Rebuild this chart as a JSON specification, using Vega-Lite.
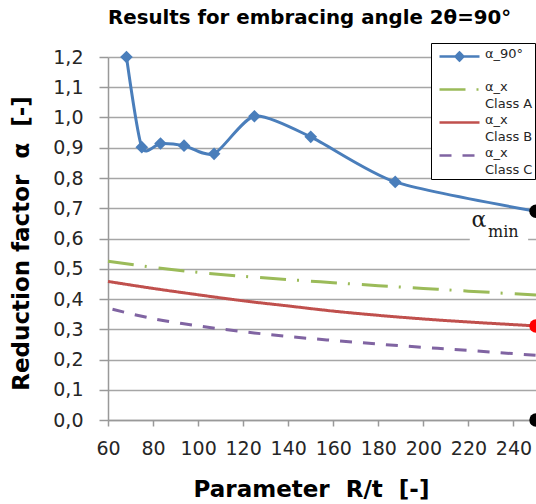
{
  "$schema": "https://vega.github.io/schema/vega-lite/v6.json",
  "autosize": "none",
  "width": 428,
  "height": 363,
  "padding": {"left": 108, "top": 57, "right": 0, "bottom": 84},
  "background": "white",
  "title": {
    "text": "Results for embracing angle 2θ=90°",
    "anchor": "start",
    "frame": "group",
    "font": "DejaVu Sans",
    "fontSize": 19.8,
    "fontWeight": "bold",
    "color": "#000000",
    "baseline": "alphabetic",
    "offset": -1
  },
  "config": {
    "view": {"stroke": null},
    "axis": {
      "labelFont": "DejaVu Sans",
      "labelFontSize": 19,
      "labelColor": "#262626",
      "titleFont": "DejaVu Sans",
      "titleFontSize": 23,
      "titleFontWeight": "bold",
      "titleColor": "#000000",
      "domainColor": "#999999",
      "domainWidth": 1.5,
      "tickColor": "#999999",
      "tickWidth": 1.5,
      "labelOverlap": false,
      "labelFlush": false
    }
  },
  "datasets": {
    "curves": [
      {"series": "α_90°", "rt": 68.2, "alpha": 1.2},
      {"series": "α_90°", "rt": 75, "alpha": 0.902},
      {"series": "α_90°", "rt": 83.3, "alpha": 0.914},
      {"series": "α_90°", "rt": 93.75, "alpha": 0.907},
      {"series": "α_90°", "rt": 107.1, "alpha": 0.88},
      {"series": "α_90°", "rt": 125, "alpha": 1.004},
      {"series": "α_90°", "rt": 150, "alpha": 0.936},
      {"series": "α_90°", "rt": 187.5, "alpha": 0.787},
      {"series": "α_90°", "rt": 250, "alpha": 0.69},
      {"series": "α_x Class A", "rt": 60, "alpha": 0.525},
      {"series": "α_x Class A", "rt": 80, "alpha": 0.505},
      {"series": "α_x Class A", "rt": 100, "alpha": 0.488},
      {"series": "α_x Class A", "rt": 120, "alpha": 0.475},
      {"series": "α_x Class A", "rt": 140, "alpha": 0.464},
      {"series": "α_x Class A", "rt": 160, "alpha": 0.454},
      {"series": "α_x Class A", "rt": 180, "alpha": 0.444},
      {"series": "α_x Class A", "rt": 200, "alpha": 0.435},
      {"series": "α_x Class A", "rt": 220, "alpha": 0.426},
      {"series": "α_x Class A", "rt": 250, "alpha": 0.413},
      {"series": "α_x Class B", "rt": 60, "alpha": 0.458},
      {"series": "α_x Class B", "rt": 80, "alpha": 0.435},
      {"series": "α_x Class B", "rt": 100, "alpha": 0.414},
      {"series": "α_x Class B", "rt": 120, "alpha": 0.394},
      {"series": "α_x Class B", "rt": 140, "alpha": 0.377},
      {"series": "α_x Class B", "rt": 160, "alpha": 0.36},
      {"series": "α_x Class B", "rt": 180, "alpha": 0.346},
      {"series": "α_x Class B", "rt": 200, "alpha": 0.334},
      {"series": "α_x Class B", "rt": 220, "alpha": 0.324},
      {"series": "α_x Class B", "rt": 250, "alpha": 0.311},
      {"series": "α_x Class C", "rt": 62, "alpha": 0.366},
      {"series": "α_x Class C", "rt": 80, "alpha": 0.335},
      {"series": "α_x Class C", "rt": 100, "alpha": 0.311},
      {"series": "α_x Class C", "rt": 120, "alpha": 0.292},
      {"series": "α_x Class C", "rt": 140, "alpha": 0.276},
      {"series": "α_x Class C", "rt": 160, "alpha": 0.263},
      {"series": "α_x Class C", "rt": 180, "alpha": 0.251},
      {"series": "α_x Class C", "rt": 200, "alpha": 0.24},
      {"series": "α_x Class C", "rt": 220, "alpha": 0.23},
      {"series": "α_x Class C", "rt": 250, "alpha": 0.214}
    ],
    "blackDots": [
      {"rt": 250, "alpha": 0.69},
      {"rt": 250, "alpha": 0.0}
    ],
    "redDots": [
      {"rt": 250, "alpha": 0.311}
    ],
    "labelBox": [
      {"rt": 220.6, "rt2": 246.5, "alpha": 0.588, "alpha2": 0.66}
    ],
    "alphaLabel": [
      {"rt": 221.4, "alpha": 0.638, "txt": "α"}
    ],
    "minLabel": [
      {"rt": 228.7, "alpha": 0.605, "txt": "min"}
    ]
  },
  "encoding": {
    "x": {
      "field": "rt", "type": "quantitative",
      "scale": {"domain": [60, 250], "nice": false, "zero": false},
      "axis": {
        "title": "Parameter\u00a0\u00a0R/t\u00a0\u00a0[-]",
        "titleX": 203,
        "values": [60, 80, 100, 120, 140, 160, 180, 200, 220, 240],
        "grid": false,
        "tickSize": 6,
        "labelPadding": 13,
        "titlePadding": 20
      }
    },
    "y": {
      "field": "alpha", "type": "quantitative",
      "scale": {"domain": [0, 1.2], "nice": false},
      "axis": {
        "title": "Reduction factor\u00a0\u00a0α\u00a0\u00a0[-]",
        "titleY": 186,
        "values": [0, 0.1, 0.2, 0.3, 0.4, 0.5, 0.6, 0.7, 0.8, 0.9, 1.0, 1.1, 1.2],
        "labelExpr": "replace(format(datum.value, '.1f'), '.', ',')",
        "grid": true,
        "gridColor": "#a6a6a6",
        "gridWidth": 1.5,
        "tickSize": 9,
        "labelPadding": 16,
        "titlePadding": 19
      }
    },
    "color": {
      "field": "series", "type": "nominal",
      "scale": {
        "domain": ["α_90°", "α_x Class A", "α_x Class B", "α_x Class C"],
        "range": ["#4a7ebb", "#9bbb59", "#c0504d", "#8064a2"]
      },
      "legend": {
        "title": null,
        "orient": "none",
        "legendX": 323,
        "legendY": -14,
        "padding": 2,
        "strokeColor": "#000000",
        "fillColor": "#ffffff",
        "labelFont": "DejaVu Sans",
        "labelFontSize": 13,
        "labelColor": "#262626",
        "labelOffset": 29,
        "labelBaseline": "middle",
        "symbolSize": 400,
        "symbolStrokeWidth": 2.5,
        "rowPadding": -14,
        "labelExpr": "datum.label == 'α_90°' ? ['α_90°', ''] : ['α_x', replace(datum.label, 'α_x ', '')]",
        "encode": {
          "symbols": {
            "update": {
              "shape": {"signal": "datum.value == 'α_90°' ? 'M-0.5,0H3.5M1.5,-0.4L1.9,0L1.5,0.4L1.1,0Z' : 'M-0.5,0H3.5'"},
              "fill": {"signal": "datum.value == 'α_90°' ? '#4a7ebb' : 'transparent'"},
              "strokeDash": {"signal": "datum.value == 'α_x Class A' ? [7, 6, 2, 6] : datum.value == 'α_x Class C' ? [6, 4] : [1, 0]"}
            }
          },
          "labels": {
            "update": {
              "dy": {"value": -3},
              "lineHeight": {"value": 17}
            }
          }
        }
      }
    }
  },
  "layer": [
    {
      "data": {"name": "labelBox"},
      "mark": {"type": "rect"},
      "encoding": {
        "x2": {"field": "rt2"},
        "y2": {"field": "alpha2"},
        "color": {"value": "#ffffff"}
      }
    },
    {
      "data": {"name": "curves"},
      "transform": [{"filter": "datum.series != 'α_90°'"}],
      "mark": {"type": "line", "interpolate": "cardinal", "strokeWidth": 3},
      "encoding": {
        "strokeDash": {
          "field": "series", "type": "nominal",
          "scale": {
            "domain": ["α_90°", "α_x Class A", "α_x Class B", "α_x Class C"],
            "range": [[1, 0], [26, 11, 2, 12], [1, 0], [12, 11]]
          },
          "legend": null
        }
      }
    },
    {
      "data": {"name": "curves"},
      "transform": [{"filter": "datum.series == 'α_90°'"}],
      "mark": {"type": "line", "interpolate": "cardinal", "tension": 0.3, "strokeWidth": 3}
    },
    {
      "data": {"name": "curves"},
      "transform": [{"filter": "datum.series == 'α_90°' && datum.rt < 250"}],
      "mark": {"type": "point", "shape": "diamond", "filled": true, "size": 160, "opacity": 1},
      "encoding": {"color": {"value": "#4a7ebb"}}
    },
    {
      "data": {"name": "blackDots"},
      "mark": {"type": "point", "shape": "circle", "filled": true, "size": 180, "opacity": 1},
      "encoding": {"color": {"value": "#000000"}}
    },
    {
      "data": {"name": "redDots"},
      "mark": {"type": "point", "shape": "circle", "filled": true, "size": 180, "opacity": 1},
      "encoding": {"color": {"value": "#ff0000"}}
    },
    {
      "data": {"name": "alphaLabel"},
      "mark": {"type": "text", "font": "DejaVu Serif", "fontSize": 22, "align": "left", "baseline": "alphabetic"},
      "encoding": {"text": {"field": "txt"}, "color": {"value": "#1a1a1a"}}
    },
    {
      "data": {"name": "minLabel"},
      "mark": {"type": "text", "font": "DejaVu Serif", "fontSize": 16, "align": "left", "baseline": "alphabetic"},
      "encoding": {"text": {"field": "txt"}, "color": {"value": "#1a1a1a"}}
    }
  ]
}
